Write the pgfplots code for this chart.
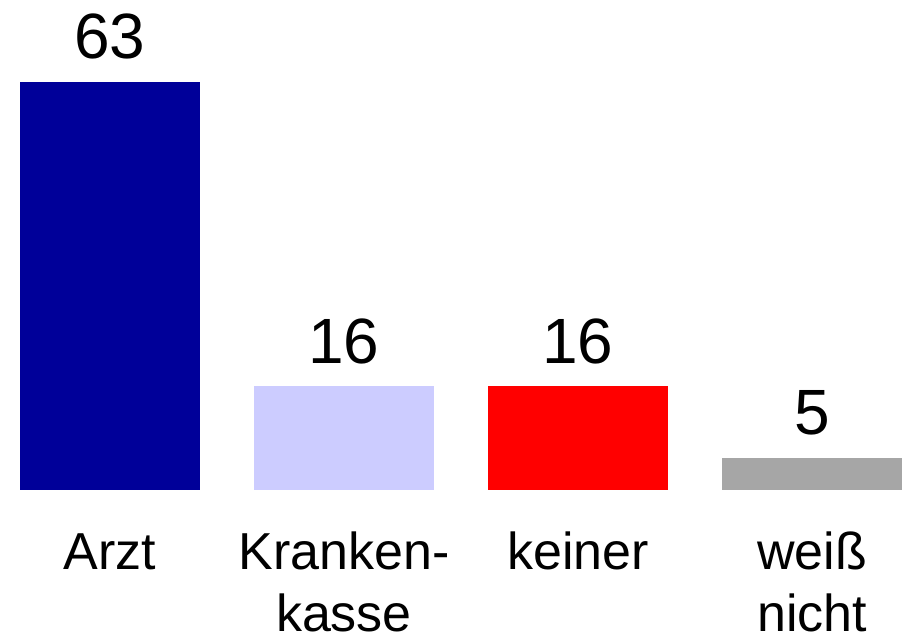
\documentclass[border=0pt]{standalone}
\usepackage{pgfplots}
\pgfplotsset{compat=1.18}
\usepackage{fontspec}
\setmainfont{Liberation Sans}

\definecolor{darkblue}{HTML}{000099}
\definecolor{lavender}{HTML}{CCCCFF}
\definecolor{barred}{HTML}{FF0000}
\definecolor{bargray}{HTML}{A6A6A6}

\begin{document}
\begin{tikzpicture}
  \begin{axis}[
      scale only axis,
      width=882pt, height=408pt,
      xmin=-0.3846, xmax=3.3846,
      ymin=0, ymax=63,
      clip=false,
      ybar, bar width=180pt, bar shift=0pt,
      axis line style={draw=none},
      tick style={draw=none},
      ytick=\empty,
      xtick={0,1,2,3},
      % every label has two lines, anchored at the baseline of the second
      xticklabels={{Arzt\\\mbox{}}, {Kranken-\\kasse}, {keiner\\\mbox{}}, {weiß\\nicht}},
      xticklabel style={anchor=base, inner sep=0pt, yshift=-137pt,
        align=center, font=\fontsize{52}{62}\selectfont},
      /pgf/number format/assume math mode=true,
      nodes near coords,
      every node near coord/.append style={anchor=base, yshift=23pt,
        font=\fontsize{64}{70}\selectfont, text=black},
    ]
    \addplot[fill=darkblue, draw=none] coordinates {(0,63)};
    \addplot[fill=lavender, draw=none] coordinates {(1,16)};
    \addplot[fill=barred, draw=none] coordinates {(2,16)};
    \addplot[fill=bargray, draw=none] coordinates {(3,5)};
  \end{axis}
  \pgfresetboundingbox
  \path[use as bounding box]
    ([xshift=-20pt,yshift=-147pt]current axis.south west)
    rectangle ([xshift=6pt,yshift=82pt]current axis.north east);
\end{tikzpicture}
\end{document}
